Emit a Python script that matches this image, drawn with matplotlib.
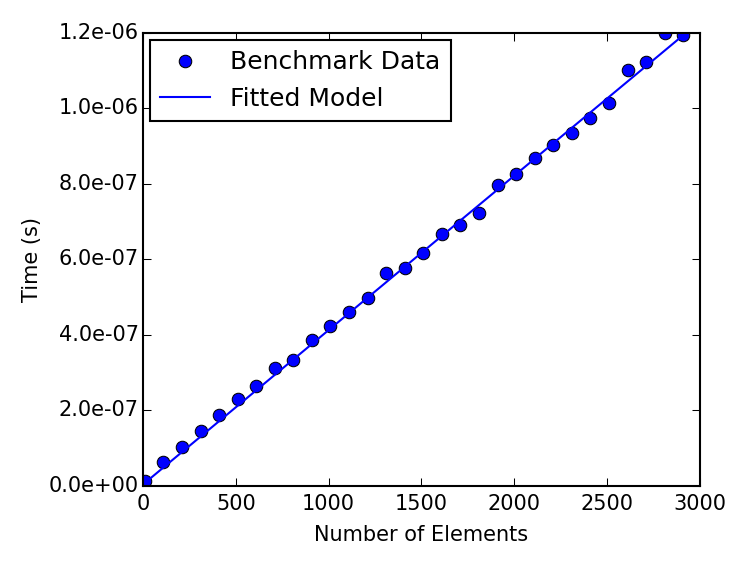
"""Benchmark timing vs. number of elements, with fitted linear model."""
import matplotlib
matplotlib.use("Agg")
import matplotlib.pyplot as plt
from matplotlib.ticker import FormatStrFormatter

plt.style.use("classic")

# Measured points
n_elements = [10, 110, 210, 310, 410, 510, 610, 710, 810, 910,
              1010, 1110, 1210, 1310, 1410, 1510, 1610, 1710, 1810, 1910,
              2010, 2110, 2210, 2310, 2410, 2510, 2610, 2710, 2810, 2910]
times = [1.24e-08, 6.38e-08, 1.04e-07, 1.47e-07, 1.87e-07, 2.31e-07, 2.66e-07,
         3.13e-07, 3.35e-07, 3.87e-07, 4.24e-07, 4.62e-07, 4.99e-07, 5.65e-07,
         5.77e-07, 6.17e-07, 6.68e-07, 6.92e-07, 7.24e-07, 7.97e-07, 8.26e-07,
         8.68e-07, 9.02e-07, 9.36e-07, 9.76e-07, 1.014e-06, 1.101e-06,
         1.122e-06, 1.199e-06, 1.194e-06]

# Fitted model: t = intercept + slope * n
fit_intercept = 4.0e-09
fit_slope = 4.09e-10
fit_times = [fit_intercept + fit_slope * n for n in n_elements]

fig = plt.figure(figsize=(747 / 150, 561 / 150), dpi=150, facecolor="white")
ax = fig.add_subplot(111)
fig.subplots_adjust(left=0.1914, right=0.937, bottom=0.1337, top=0.9412)

ax.plot(n_elements, times, "o", color="b", markersize=6,
        markeredgecolor="k", label="Benchmark Data")
ax.plot(n_elements, fit_times, "-", color="b", linewidth=1, label="Fitted Model")

ax.set_xlim(0, 3000)
ax.set_ylim(0, 1.2e-6)
ax.yaxis.set_major_formatter(FormatStrFormatter("%.1e"))
ax.tick_params(labelsize=10)
ax.tick_params(axis="y", pad=2)
ax.set_xlabel("Number of Elements", fontsize=10)
ax.set_ylabel("Time (s)", fontsize=10, labelpad=3)
ax.legend(loc="upper left", numpoints=1, fontsize=12,
          borderaxespad=0.3)

fig.savefig("out.png", dpi=150, facecolor="white")
plt.close(fig)
